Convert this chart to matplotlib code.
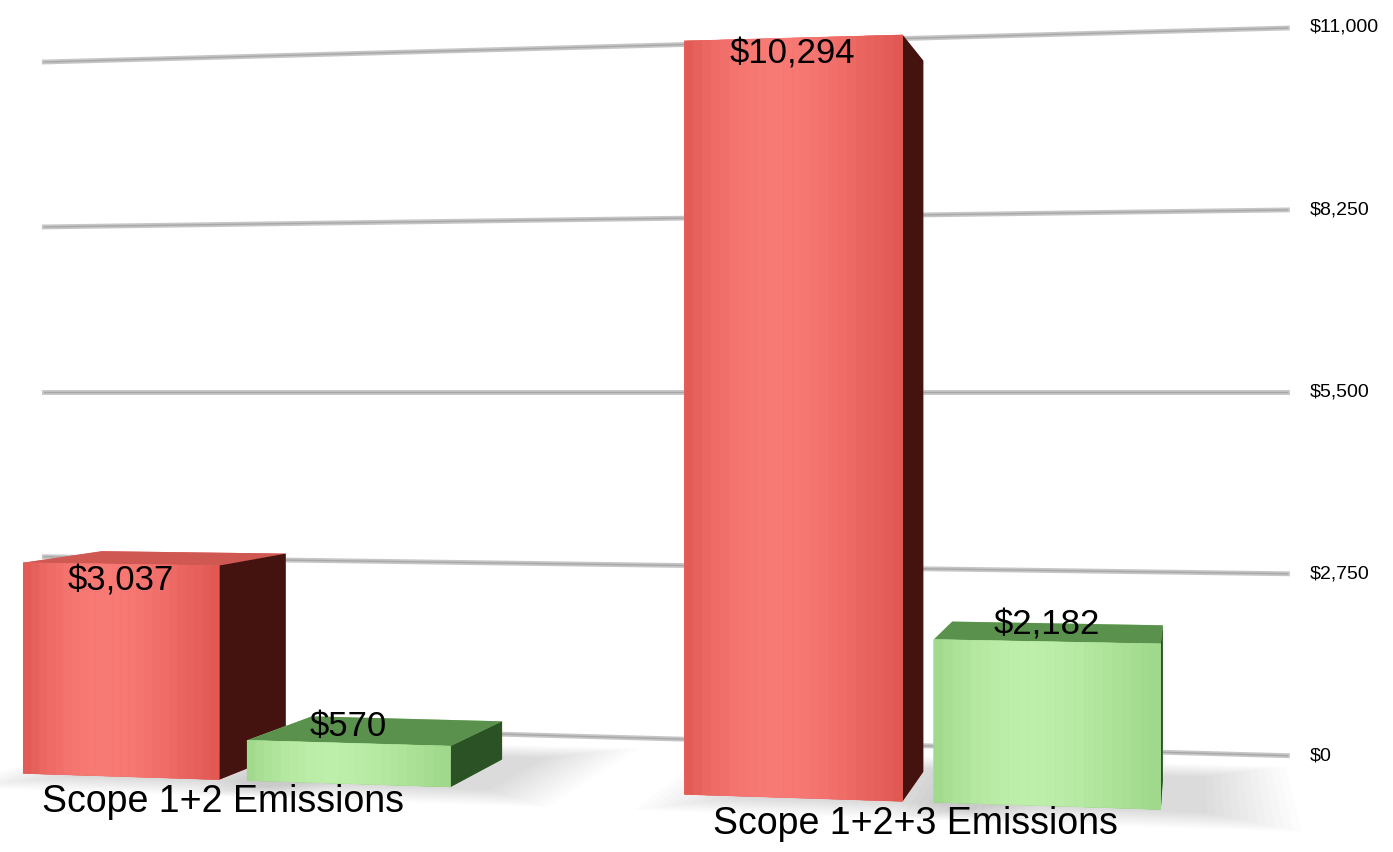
import matplotlib
matplotlib.use("Agg")
import matplotlib.pyplot as plt
import numpy as np
from matplotlib.colors import to_rgb
from mpl_toolkits.mplot3d import proj3d
from mpl_toolkits.mplot3d.art3d import Poly3DCollection

plt.rcParams['font.family'] = ['Liberation Sans', 'DejaVu Sans']

# chart data
categories = ["Scope 1+2 Emissions", "Scope 1+2+3 Emissions"]
red_values = [3037, 10294]
green_values = [570, 2182]
tick_values = [0, 2750, 5500, 8250, 11000]

# scene layout (world units)
bar_w = 1.0
bar_d = 0.85
pair_gap = 0.14
group_pitch = 3.25
wall_y = 1.7
wall_x0, wall_x1 = -0.75, 6.0
zmax = 11000

# face order for bar3d: bottom, top, front, back, left, right
red_faces = ['#c9504b', '#cf5853', '#ec6b66', '#ec6b66', '#ec6b66', '#45130f']
green_faces = ['#4f8a45', '#5a914d', '#a8de95', '#a8de95', '#a8de95', '#2b5224']
# front face shading: edge colour -> centre highlight
red_grad = ('#e15853', '#f87a75')
green_grad = ('#9fd88a', '#bdeeaa')

W, H = 1393, 852
fig = plt.figure(figsize=(W / 100, H / 100), dpi=100)
# 3d axes are forced square, so make the square span the full width
ax = fig.add_axes([0.054, -(W / H - 1) / 2 + 0.018, 1, W / H], projection='3d',
                  computed_zorder=False)
ax.set_proj_type('persp', focal_length=0.3)
ax.view_init(elev=0, azim=-80)
ax.set_xlim(0.1, 7.1)
ax.set_ylim(0, wall_y)
ax.set_zlim(0, zmax)
ax.set_box_aspect((7.45, wall_y, 3.9), zoom=1.153)
ax.set_axis_off()

# gridlines on the back wall
for t in tick_values:
    ax.plot([wall_x0, wall_x1], [wall_y, wall_y], [t, t], color='#c6c6c6', lw=3.5, zorder=1)
    ax.plot([wall_x0, wall_x1], [wall_y, wall_y], [t, t], color='#a8a8a8', lw=1.0, zorder=1)


def floor_shadow(x, w, zo):
    # soft shadow on the floor, thrown a little to the right
    for k in range(12):
        e = 0.035 * k
        quad = [(x + 0.25 - e, -0.05 - e, 0), (x + w + 0.2 + e, -0.05 - e, 0),
                (x + w + 0.2 + e, bar_d + 0.1 + e, 0), (x + 0.25 - e, bar_d + 0.1 + e, 0)]
        ax.add_collection3d(Poly3DCollection([quad], facecolor='black',
                                             edgecolor='none', alpha=0.012, zorder=zo))


def front_gradient(x, h, grad, zo, n=24):
    # vertical strips across the front face, lighter towards the middle
    c0, c1 = np.array(to_rgb(grad[0])), np.array(to_rgb(grad[1]))
    edges = np.linspace(x, x + bar_w, n + 1)
    polys, cols = [], []
    for a, b in zip(edges[:-1], edges[1:]):
        u = ((a + b) / 2 - x) / bar_w
        s = np.sin(np.pi * u ** 0.8) ** 1.2
        polys.append([(a, 0, 0), (b, 0, 0), (b, 0, h), (a, 0, h)])
        cols.append(c0 + (c1 - c0) * s)
    ax.add_collection3d(Poly3DCollection(polys, facecolors=cols, edgecolors=cols,
                                         linewidths=0.3, zorder=zo))


# bars, drawn from the far (left) side towards the camera
zo = 3
for i in range(len(categories)):
    x_red = i * group_pitch
    x_green = x_red + bar_w + pair_gap
    for x, v, faces, grad in [(x_red, red_values[i], red_faces, red_grad),
                              (x_green, green_values[i], green_faces, green_grad)]:
        floor_shadow(x, bar_w, 2)
        ax.bar3d(x, 0, 0, bar_w, bar_d, v, color=faces, shade=False, zorder=zo)
        front_gradient(x, v, grad, zo + 0.5)
        zo += 1

# the scene reaches past the square axes box, so don't clip to it
for art in ax.collections + ax.lines:
    art.set_clip_on(False)

# labels go on as flat text at their projected positions
fig.canvas.draw()
M = ax.get_proj()


def label(x, y, z, s, **kw):
    px, py, _ = proj3d.proj_transform(x, y, z, M)
    ax.text2D(px, py, s, transform=ax.transData, **kw)


for t in tick_values:
    label(wall_x1 + 0.11, wall_y, t, '${:,}'.format(t), fontsize=14,
          ha='left', va='center')

for i, cat in enumerate(categories):
    x_red = i * group_pitch
    x_green = x_red + bar_w + pair_gap
    label(x_red + bar_w / 2, 0, red_values[i], '${:,}'.format(red_values[i]),
          fontsize=25, ha='center', va='top', zorder=20)
    label(x_green + bar_w / 2, 0, green_values[i], '${:,}'.format(green_values[i]),
          fontsize=25, ha='center', va='bottom', zorder=20)
    label(x_red + bar_w + pair_gap / 2, -0.12, 0, cat, fontsize=27,
          ha='center', va='top', zorder=20)

fig.savefig('out.png', dpi=100)
